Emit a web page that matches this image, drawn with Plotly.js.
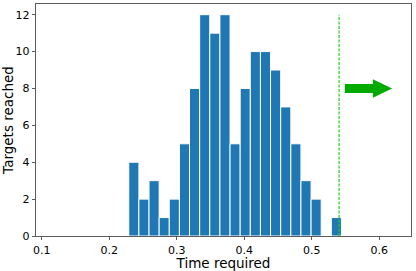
<!DOCTYPE html>
<html>
<head>
<meta charset="utf-8">
<script src="https://cdn.plot.ly/plotly-3.0.1.min.js"></script>
<style>html,body{margin:0;padding:0;background:#fff;}#chart{width:416px;height:271px;}</style>
</head>
<body>
<div id="chart"></div>
<script>
// Histogram bins (left edges start at 0.229, width 0.015)
const binStart = 0.229;
const binWidth = 0.015;
const counts = [4, 2, 3, 1, 2, 5, 8, 12, 11, 12, 5, 8, 10, 10, 9, 7, 5, 3, 2, 0, 1];
const binCenters = counts.map((c, i) => binStart + binWidth * (i + 0.5));

// Threshold line
const thresholdX = 0.5405;
const thresholdTop = 12;

// Arrow (tail x, head base x, tip x, y)
const arrowX = [0.549, 0.5905, 0.619];
const arrowY = 8.0;
const arrowBodyHalf = 0.24;
const arrowHeadHalf = 0.5;

const xTicks = [0.1, 0.2, 0.3, 0.4, 0.5, 0.6];
const yTicks = [0, 2, 4, 6, 8, 10, 12];

const arrowPath = 'M ' + arrowX[0] + ' ' + (arrowY - arrowBodyHalf) +
  ' L ' + arrowX[1] + ' ' + (arrowY - arrowBodyHalf) +
  ' L ' + arrowX[1] + ' ' + (arrowY - arrowHeadHalf) +
  ' L ' + arrowX[2] + ' ' + arrowY +
  ' L ' + arrowX[1] + ' ' + (arrowY + arrowHeadHalf) +
  ' L ' + arrowX[1] + ' ' + (arrowY + arrowBodyHalf) +
  ' L ' + arrowX[0] + ' ' + (arrowY + arrowBodyHalf) + ' Z';

const font = "DejaVu Sans, sans-serif";

Plotly.newPlot('chart', [{
  type: 'bar',
  x: binCenters,
  y: counts,
  width: binWidth,
  marker: {color: '#1f77b4', line: {color: '#ffffff', width: 1}},
  hoverinfo: 'none'
}], {
  width: 416, height: 271,
  margin: {l: 36, r: 4.5, t: 4, b: 34.5},
  paper_bgcolor: '#fff', plot_bgcolor: '#fff',
  showlegend: false,
  bargap: 0,
  font: {family: font, color: '#000', size: 11},
  xaxis: {
    range: [0.0916, 0.647],
    tickvals: xTicks, ticktext: xTicks.map(v => v.toFixed(1)),
    ticks: 'outside', ticklen: 3.5, tickwidth: 0.8, tickcolor: '#333',
    showgrid: false, zeroline: false,
    showline: true, linecolor: '#333', linewidth: 0.8, mirror: true,
    tickfont: {family: font, size: 11},
    title: {text: 'Time required', font: {family: font, size: 13.5}, standoff: 0}
  },
  yaxis: {
    range: [0, 12.58],
    tickvals: yTicks,
    ticks: 'outside', ticklen: 3.5, tickwidth: 0.8, tickcolor: '#333',
    showgrid: false, zeroline: false,
    showline: true, linecolor: '#333', linewidth: 0.8, mirror: true,
    tickfont: {family: font, size: 11},
    title: {text: 'Targets reached', font: {family: font, size: 13.5}, standoff: 2}
  },
  shapes: [
    {type: 'line', xref: 'x', yref: 'y', x0: thresholdX, x1: thresholdX, y0: 0, y1: thresholdTop,
     line: {color: '#22cc22', width: 1.2, dash: '3px,1.5px'}},
    {type: 'path', xref: 'x', yref: 'y', path: arrowPath,
     fillcolor: '#00aa00', line: {width: 0}}
  ]
}, {staticPlot: true, displayModeBar: false});
</script>
</body>
</html>
